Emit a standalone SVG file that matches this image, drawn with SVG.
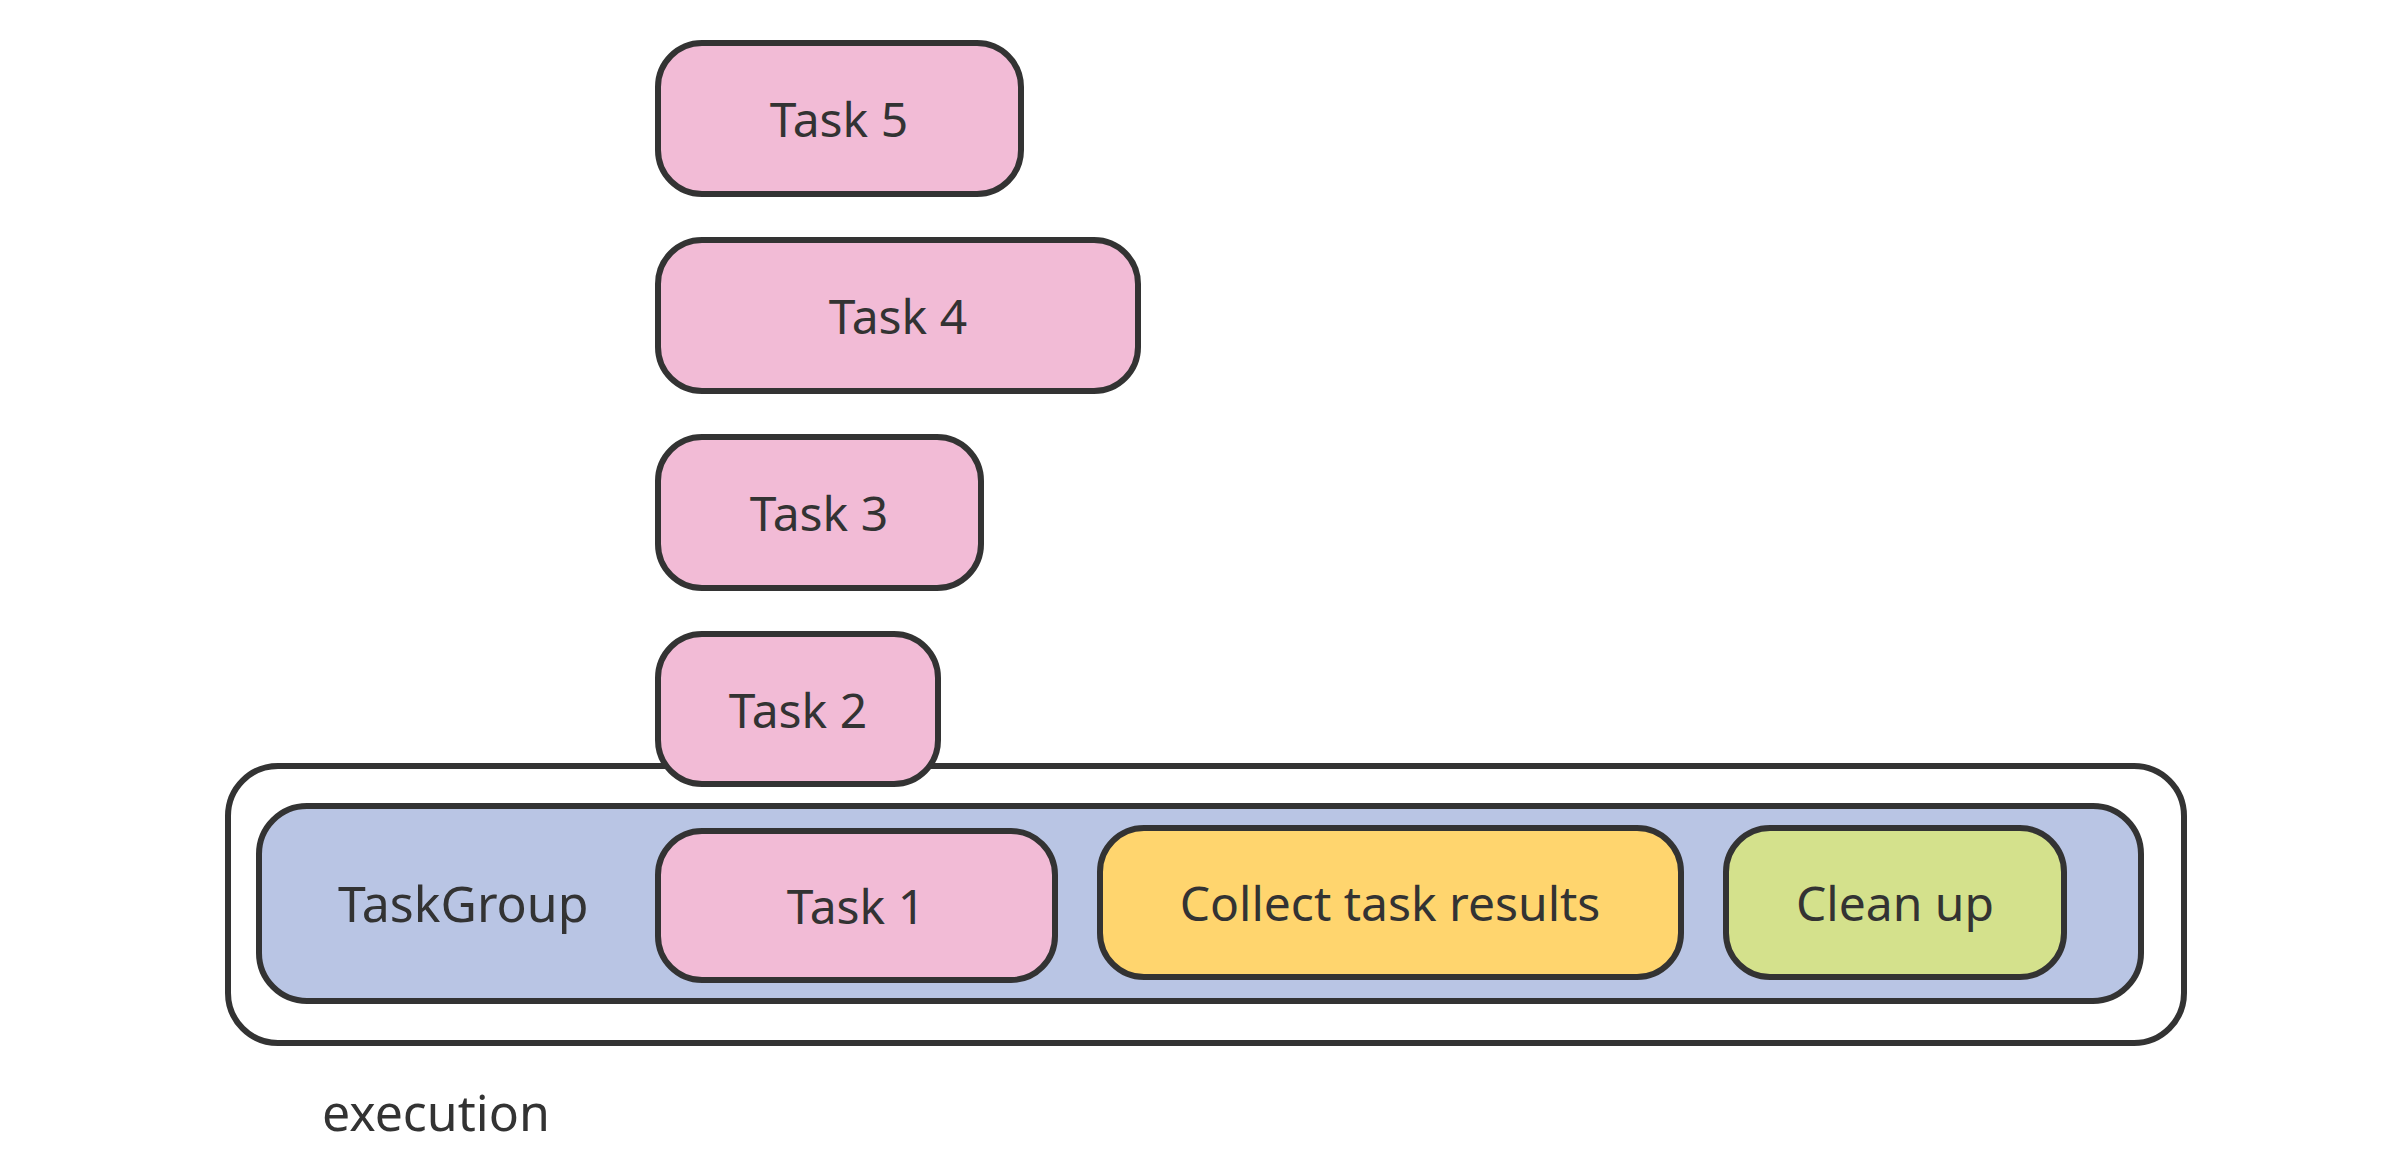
<svg xmlns="http://www.w3.org/2000/svg" width="2400" height="1176" viewBox="0 0 2400 1176">
<style>
.b{stroke:#333;stroke-width:6}
.p{fill:#f2bbd6}
.t{font-family:"Noto Sans","Open Sans",sans-serif;font-size:48px;fill:#333;text-anchor:middle;dominant-baseline:central}
.l{font-family:"Noto Sans","Open Sans",sans-serif;font-size:50px;fill:#333}
</style>
<rect width="2400" height="1176" fill="#fff"/>
<g id="execution">
<rect class="b" x="228" y="766" width="1956" height="277" rx="50" fill="#fff"/>
<text class="l" x="322" y="1131">execution</text>
</g>
<g id="taskgroup">
<rect class="b" x="259" y="806" width="1882" height="195" rx="48" fill="#b9c5e4"/>
<text class="l" x="338" y="922">TaskGroup</text>
</g>
<g id="task5"><rect class="b p" x="658" y="43" width="363" height="151" rx="44"/><text class="t" x="839" y="118">Task 5</text></g>
<g id="task4"><rect class="b p" x="658" y="240" width="480" height="151" rx="44"/><text class="t" x="898" y="315">Task 4</text></g>
<g id="task3"><rect class="b p" x="658" y="437" width="323" height="151" rx="44"/><text class="t" x="819" y="512">Task 3</text></g>
<g id="task2"><rect class="b p" x="658" y="634" width="280" height="150" rx="44"/><text class="t" x="798" y="709">Task 2</text></g>
<g id="task1"><rect class="b p" x="658" y="831" width="397" height="149" rx="44"/><text class="t" x="856" y="905">Task 1</text></g>
<g id="collect"><rect class="b" x="1100" y="828" width="581" height="149" rx="44" fill="#ffd56e"/><text class="t" x="1390" y="902">Collect task results</text></g>
<g id="cleanup"><rect class="b" x="1726" y="828" width="338" height="149" rx="44" fill="#d4e18c"/><text class="t" x="1895" y="902">Clean up</text></g>
<g id="connectors"/>
</svg>
